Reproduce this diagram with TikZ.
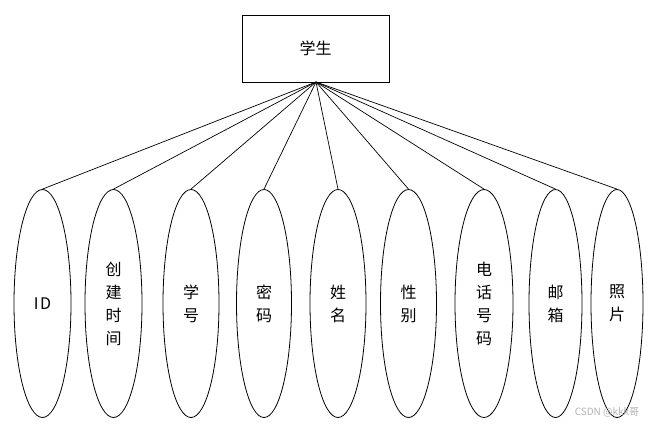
\documentclass[tikz,border=0pt]{standalone}
\usepackage{fontspec}
\setmainfont{Noto Sans CJK SC}
\usetikzlibrary{shapes.geometric}
\begin{document}
\begin{tikzpicture}[x=1pt,y=-1pt,
  entity/.style={draw, line width=0.8pt, rectangle, minimum width=147pt, minimum height=67pt, inner sep=0pt, font=\fontsize{16}{20}\selectfont},
  attr/.style={draw, line width=0.8pt, ellipse, minimum height=228pt, inner sep=0pt, align=center, font=\fontsize{16}{23}\selectfont},
  link/.style={line width=0.7pt}]
\useasboundingbox (0,0) rectangle (648,424);
\node[entity] (s) at (315.5,48.5) {学生};
\coordinate (hub) at (316,82);
\node[attr, minimum width=57pt] (a1) at (42.5,303.5) {I\kern1.5pt D};
\node[attr, minimum width=57pt] (a2) at (113.5,303.5) {创\\建\\时\\间};
\node[attr, minimum width=56pt] (a3) at (191,303.5) {学\\号};
\node[attr, minimum width=55pt] (a4) at (264,303.5) {密\\码};
\node[attr, minimum width=56pt] (a5) at (338,303.5) {姓\\名};
\node[attr, minimum width=56pt] (a6) at (408.5,303.5) {性\\别};
\node[attr, minimum width=58pt] (a7) at (484,303.5) {电\\话\\号\\码};
\node[attr, minimum width=53pt] (a8) at (555.5,303.5) {邮\\箱};
\node[attr, minimum width=52pt] (a9) at (617,303.5) {照\\片};
\foreach \i in {1,...,9} \draw[link] (hub) -- (a\i.north);
\node[text=black!30, font=\fontsize{10}{12}\selectfont, inner sep=0pt] (wm) at (607,412) {CSDN @kkk哥};
\end{tikzpicture}
\end{document}
